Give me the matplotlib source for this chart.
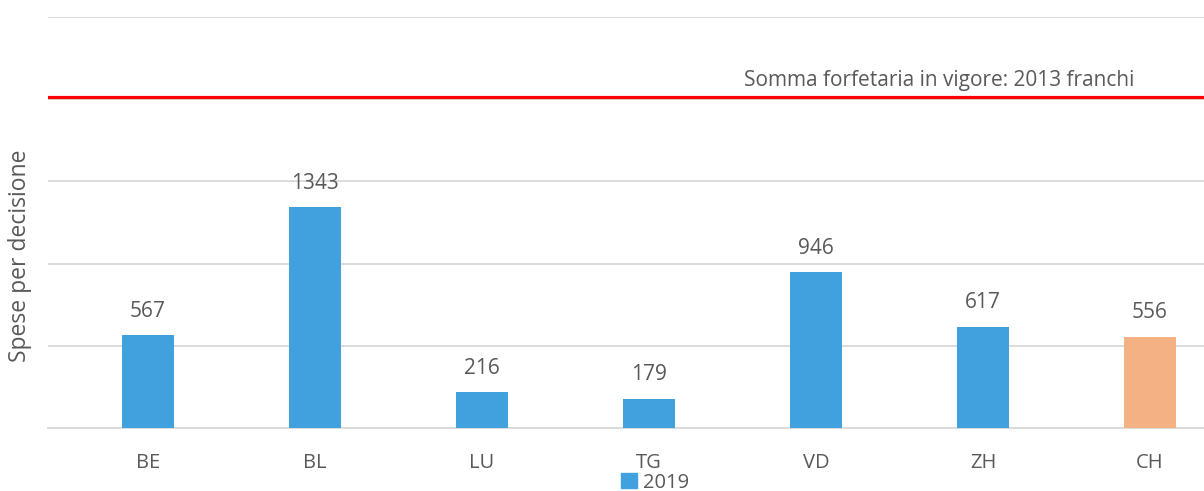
import matplotlib.pyplot as plt
from matplotlib.patches import Patch

# data
cantons = ['BE', 'BL', 'LU', 'TG', 'VD', 'ZH', 'CH']
spese = [567, 1343, 216, 179, 946, 617, 556]
forfait = 2013
forfait_label = 'Somma forfetaria in vigore: 2013 franchi'

blue = '#41A0DE'
orange = '#F4B183'
grey = '#595959'

plt.rcParams['font.family'] = ['Open Sans', 'DejaVu Sans']

fig = plt.figure(figsize=(12.04, 4.91), dpi=100)
ax = fig.add_axes([48 / 1204, 1 - 428 / 491, 1 - 48 / 1204, (428 - 17) / 491])

colors = [blue] * (len(cantons) - 1) + [orange]
x = range(len(cantons))
bars = ax.bar(x, spese, width=0.31, color=colors, zorder=3)

for xi, v in zip(x, spese):
    ax.text(xi, v + 80, str(v), ha='center', va='bottom', fontsize=15, color=grey)

ax.axhline(forfait, color='#FF0000', lw=2.3, zorder=4)
ax.text(4.74, forfait + 35, forfait_label, ha='center', va='bottom', fontsize=15, color=grey)

ax.set_xlim(-0.599, 6.323)
ax.set_ylim(0, 2500)
ax.set_yticks([0, 500, 1000, 1500, 2000, 2500])
ax.set_yticklabels([])
ax.grid(axis='y', color='#D9D9D9', lw=1.3, zorder=0)
ax.set_xticks(list(x))
ax.set_xticklabels(cantons, fontsize=14.5, color=grey)
ax.tick_params(axis='both', length=0, pad=18)
for s in ['top', 'right', 'left']:
    ax.spines[s].set_visible(False)
ax.spines['bottom'].set_color('#D9D9D9')
ax.spines['bottom'].set_linewidth(1.3)

ax.set_ylabel('Spese per decisione', fontsize=16.5, color=grey)
ax.yaxis.set_label_coords(-0.014, 0.42)

leg = fig.legend(handles=[Patch(color=blue, label='2019')], loc='center',
                 bbox_to_anchor=(655 / 1204, 1 - 482.5 / 491), frameon=False,
                 fontsize=14.5, handlelength=0.8, handleheight=0.8, handletextpad=0.3,
                 borderpad=0)
for t in leg.get_texts():
    t.set_color(grey)

fig.savefig('out.png', dpi=100)
